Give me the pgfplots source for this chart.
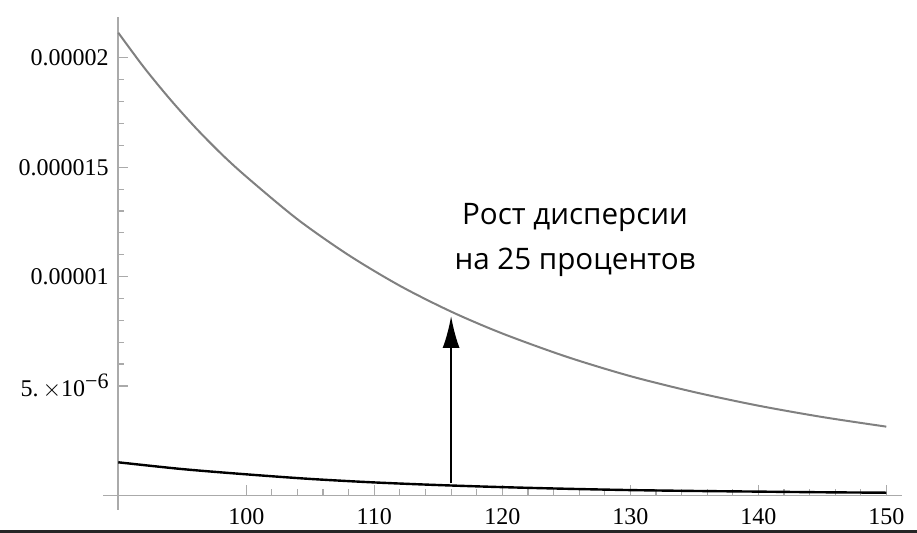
\documentclass[border=0pt]{standalone}
\usepackage{fontspec}
\setmainfont{Liberation Serif}
\newfontfamily\opensans{Open Sans}
\usepackage{pgfplots}
\pgfplotsset{compat=1.18}
\usetikzlibrary{arrows.meta}

\definecolor{axisgray}{RGB}{170,170,170}
\definecolor{curvegray}{RGB}{128,128,128}

\begin{document}
\begin{tikzpicture}
\path[use as bounding box] (-51.65pt,-11.5pt) rectangle (406.85pt,255pt);
\begin{axis}[
    scale only axis,
    width=399.2pt, height=246.4pt,
    xmin=88.83, xmax=151.2,
    ymin=-0.67e-6, ymax=21.86e-6,
    axis x line=middle,
    axis y line=left,
    axis y line shift=-7.5pt,
    axis line style={axisgray, line width=0.8pt, -},
    tick style={axisgray, line width=0.6pt},
    tick align=inside,
    major tick length=5pt,
    minor tick length=3pt,
    xtick={100,110,120,130,140,150},
    xticklabels={100,110,120,130,140,150},
    minor x tick num=4,
    ytick={5e-6,1e-5,1.5e-5,2e-5},
    yticklabels={5.\,$\times$10\raisebox{3.8pt}{\fontsize{11}{11}\selectfont −6},0.00001,0.000015,0.00002},
    minor y tick num=4,
    scaled y ticks=false,
    ticklabel style={font=\fontsize{12}{14}\selectfont, text=black},
    xticklabel style={yshift=-3.3pt},
    yticklabel style={xshift=-1.3pt},
    clip=false,
]
% gray curve (upper)
\addplot[curvegray, line width=1pt, smooth] coordinates {
    (90,21.15e-6)(92,19.57e-6)(94,18.14e-6)(96,16.83e-6)(98,15.64e-6)
    (100,14.57e-6)(104,12.62e-6)(108,10.98e-6)(112,9.58e-6)(116,8.4e-6)
    (120,7.40e-6)(125,6.34e-6)(130,5.45e-6)(135,4.72e-6)(140,4.10e-6)
    (145,3.58e-6)(150,3.14e-6)
};
% black curve (lower)
\addplot[black, line width=1.2pt, smooth] coordinates {
    (90,1.51e-6)(95,1.2e-6)(100,0.96e-6)(105,0.75e-6)(110,0.59e-6)
    (115,0.47e-6)(120,0.375e-6)(125,0.30e-6)(130,0.24e-6)(135,0.20e-6)
    (140,0.17e-6)(145,0.14e-6)(150,0.12e-6)
};
\draw[black, line width=1pt, -{Latex[length=16pt,width=8.5pt]}]
    (axis cs:116,0.55e-6) -- (axis cs:116,8.2e-6);
\node[align=center, font=\opensans\fontsize{14.8}{22.5}\selectfont]
    at (axis cs:125.68,11.67e-6) {Рост дисперсии\\на 25 процентов};
\end{axis}
\draw[black!85, line width=1.5pt] (-51.65pt,-10.75pt) -- (406.85pt,-10.75pt);
\end{tikzpicture}
\end{document}
